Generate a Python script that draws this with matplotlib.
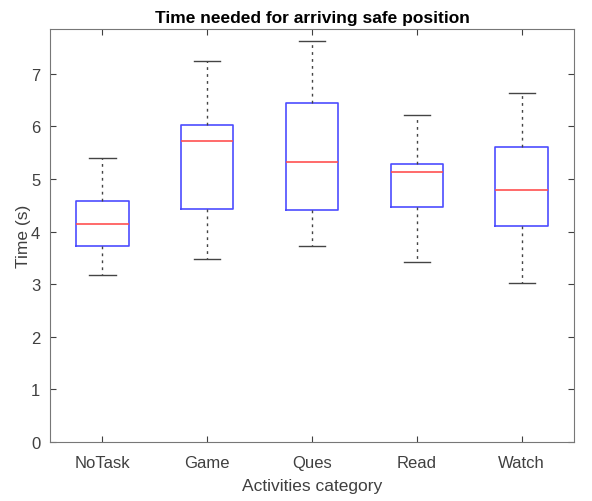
import matplotlib
matplotlib.use('Agg')
import matplotlib.pyplot as plt

plt.rcParams['font.family'] = ['Liberation Sans', 'DejaVu Sans']

categories = ['NoTask', 'Game', 'Ques', 'Read', 'Watch']
lower_whisker = [3.18, 3.47, 3.72, 3.42, 3.02]
q1 = [3.72, 4.43, 4.41, 4.46, 4.10]
median = [4.14, 5.72, 5.32, 5.14, 4.80]
q3 = [4.58, 6.02, 6.44, 5.29, 5.61]
upper_whisker = [5.40, 7.25, 7.63, 6.22, 6.64]

stats = []
for i, name in enumerate(categories):
    stats.append({'label': name, 'whislo': lower_whisker[i], 'q1': q1[i],
                  'med': median[i], 'q3': q3[i], 'whishi': upper_whisker[i],
                  'fliers': []})

fig = plt.figure(figsize=(5.92, 5.02), dpi=100)
ax = fig.add_axes([0.0845, 0.1175, 0.8851, 0.8225])

ax.bxp(stats, widths=0.5, showfliers=False,
       boxprops=dict(color='#4d4dff', linewidth=1.2),
       medianprops=dict(color='#ff5050', linewidth=1.2),
       whiskerprops=dict(color='#444444', linestyle=(0, (2, 3)), linewidth=1.0),
       capprops=dict(color='#444444', linewidth=1.0),
       capwidths=0.25)

ax.set_xlim(0.5, 5.5)
ax.set_ylim(0, 7.85)
ax.set_yticks(range(0, 8))
ax.tick_params(direction='in', top=True, right=True, labelsize=12,
               colors='#404040', length=4)
ax.tick_params(axis='x', pad=9)
ax.tick_params(axis='y', pad=7)
for sp in ax.spines.values():
    sp.set_color('#777777')

ax.set_title('Time needed for arriving safe position', fontsize=12.5,
             fontweight='bold', pad=5)
ax.set_xlabel('Activities category', fontsize=12.5, color='#404040', labelpad=6)
ax.set_ylabel('Time (s)', fontsize=12.5, color='#404040', labelpad=0)

fig.savefig('out.png', dpi=100)
